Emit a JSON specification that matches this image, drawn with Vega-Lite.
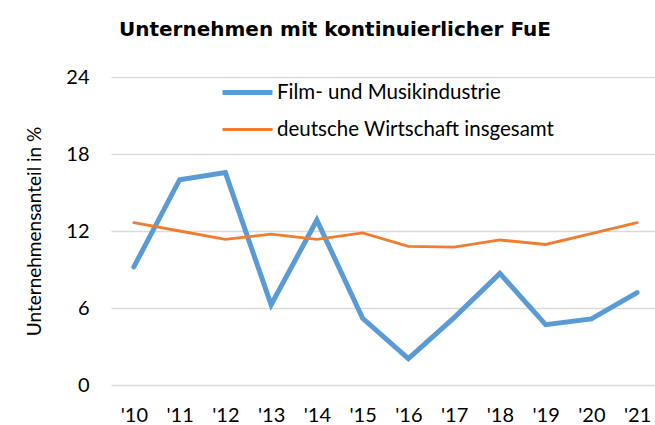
{
  "$schema": "https://vega.github.io/schema/vega-lite/v6.json",
  "width": 549,
  "height": 308,
  "autosize": "none",
  "padding": {"left": 111, "top": 77, "right": 0, "bottom": 40},
  "background": "white",
  "title": {
    "text": "Unternehmen mit kontinuierlicher FuE",
    "font": "DejaVu Sans",
    "fontSize": 20,
    "fontWeight": "bold",
    "color": "#000000",
    "anchor": "start",
    "frame": "group",
    "dx": 8,
    "baseline": "bottom",
    "offset": 5
  },
  "data": {
    "values": [
      {"year": "'10", "series": "Film- und Musikindustrie", "value": 9.2},
      {"year": "'11", "series": "Film- und Musikindustrie", "value": 16.0},
      {"year": "'12", "series": "Film- und Musikindustrie", "value": 16.55},
      {"year": "'13", "series": "Film- und Musikindustrie", "value": 6.25},
      {"year": "'14", "series": "Film- und Musikindustrie", "value": 12.85},
      {"year": "'15", "series": "Film- und Musikindustrie", "value": 5.2},
      {"year": "'16", "series": "Film- und Musikindustrie", "value": 2.05},
      {"year": "'17", "series": "Film- und Musikindustrie", "value": 5.25},
      {"year": "'18", "series": "Film- und Musikindustrie", "value": 8.7},
      {"year": "'19", "series": "Film- und Musikindustrie", "value": 4.7},
      {"year": "'20", "series": "Film- und Musikindustrie", "value": 5.15},
      {"year": "'21", "series": "Film- und Musikindustrie", "value": 7.2},
      {"year": "'10", "series": "deutsche Wirtschaft insgesamt", "value": 12.65},
      {"year": "'11", "series": "deutsche Wirtschaft insgesamt", "value": 12.0},
      {"year": "'12", "series": "deutsche Wirtschaft insgesamt", "value": 11.35},
      {"year": "'13", "series": "deutsche Wirtschaft insgesamt", "value": 11.75},
      {"year": "'14", "series": "deutsche Wirtschaft insgesamt", "value": 11.35},
      {"year": "'15", "series": "deutsche Wirtschaft insgesamt", "value": 11.85},
      {"year": "'16", "series": "deutsche Wirtschaft insgesamt", "value": 10.8},
      {"year": "'17", "series": "deutsche Wirtschaft insgesamt", "value": 10.75},
      {"year": "'18", "series": "deutsche Wirtschaft insgesamt", "value": 11.3},
      {"year": "'19", "series": "deutsche Wirtschaft insgesamt", "value": 10.95},
      {"year": "'20", "series": "deutsche Wirtschaft insgesamt", "value": 11.8},
      {"year": "'21", "series": "deutsche Wirtschaft insgesamt", "value": 12.65}
    ]
  },
  "mark": {"type": "line", "strokeCap": "round", "strokeJoin": "miter"},
  "encoding": {
    "x": {
      "field": "year",
      "type": "ordinal",
      "scale": {"type": "point", "padding": 0.5},
      "axis": {
        "title": null,
        "labelAngle": 0,
        "labelFont": "Lato",
        "labelFontSize": 20,
        "labelColor": "#000000",
        "labelPadding": 20,
        "domain": false,
        "ticks": false,
        "grid": false
      }
    },
    "y": {
      "field": "value",
      "type": "quantitative",
      "scale": {"domain": [0, 24]},
      "axis": {
        "values": [0, 6, 12, 18, 24],
        "title": "Unternehmensanteil in %",
        "titleFont": "Lato",
        "titleFontSize": 19,
        "titleFontWeight": "normal",
        "titleColor": "#000000",
        "titlePadding": 21,
        "labelFont": "Lato",
        "labelFontSize": 20,
        "labelColor": "#000000",
        "labelPadding": 22,
        "domain": false,
        "ticks": false,
        "grid": true,
        "gridColor": "#d9d9d9",
        "gridWidth": 1.5
      }
    },
    "color": {
      "field": "series",
      "type": "nominal",
      "scale": {
        "domain": ["Film- und Musikindustrie", "deutsche Wirtschaft insgesamt"],
        "range": ["#5b9bd5", "#ed7d31"]
      },
      "legend": {
        "title": null,
        "orient": "none",
        "legendX": 109,
        "legendY": -12,
        "symbolType": "stroke",
        "symbolSize": 2500,
        "labelFont": "Lato",
        "labelFontSize": 20.5,
        "labelColor": "#000000",
        "labelOffset": 2,
        "labelLimit": 0,
        "rowPadding": -16
      }
    },
    "strokeWidth": {
      "field": "series",
      "type": "nominal",
      "scale": {
        "domain": ["Film- und Musikindustrie", "deutsche Wirtschaft insgesamt"],
        "range": [5, 2.8]
      },
      "legend": null
    }
  },
  "config": {"view": {"stroke": null}}
}
